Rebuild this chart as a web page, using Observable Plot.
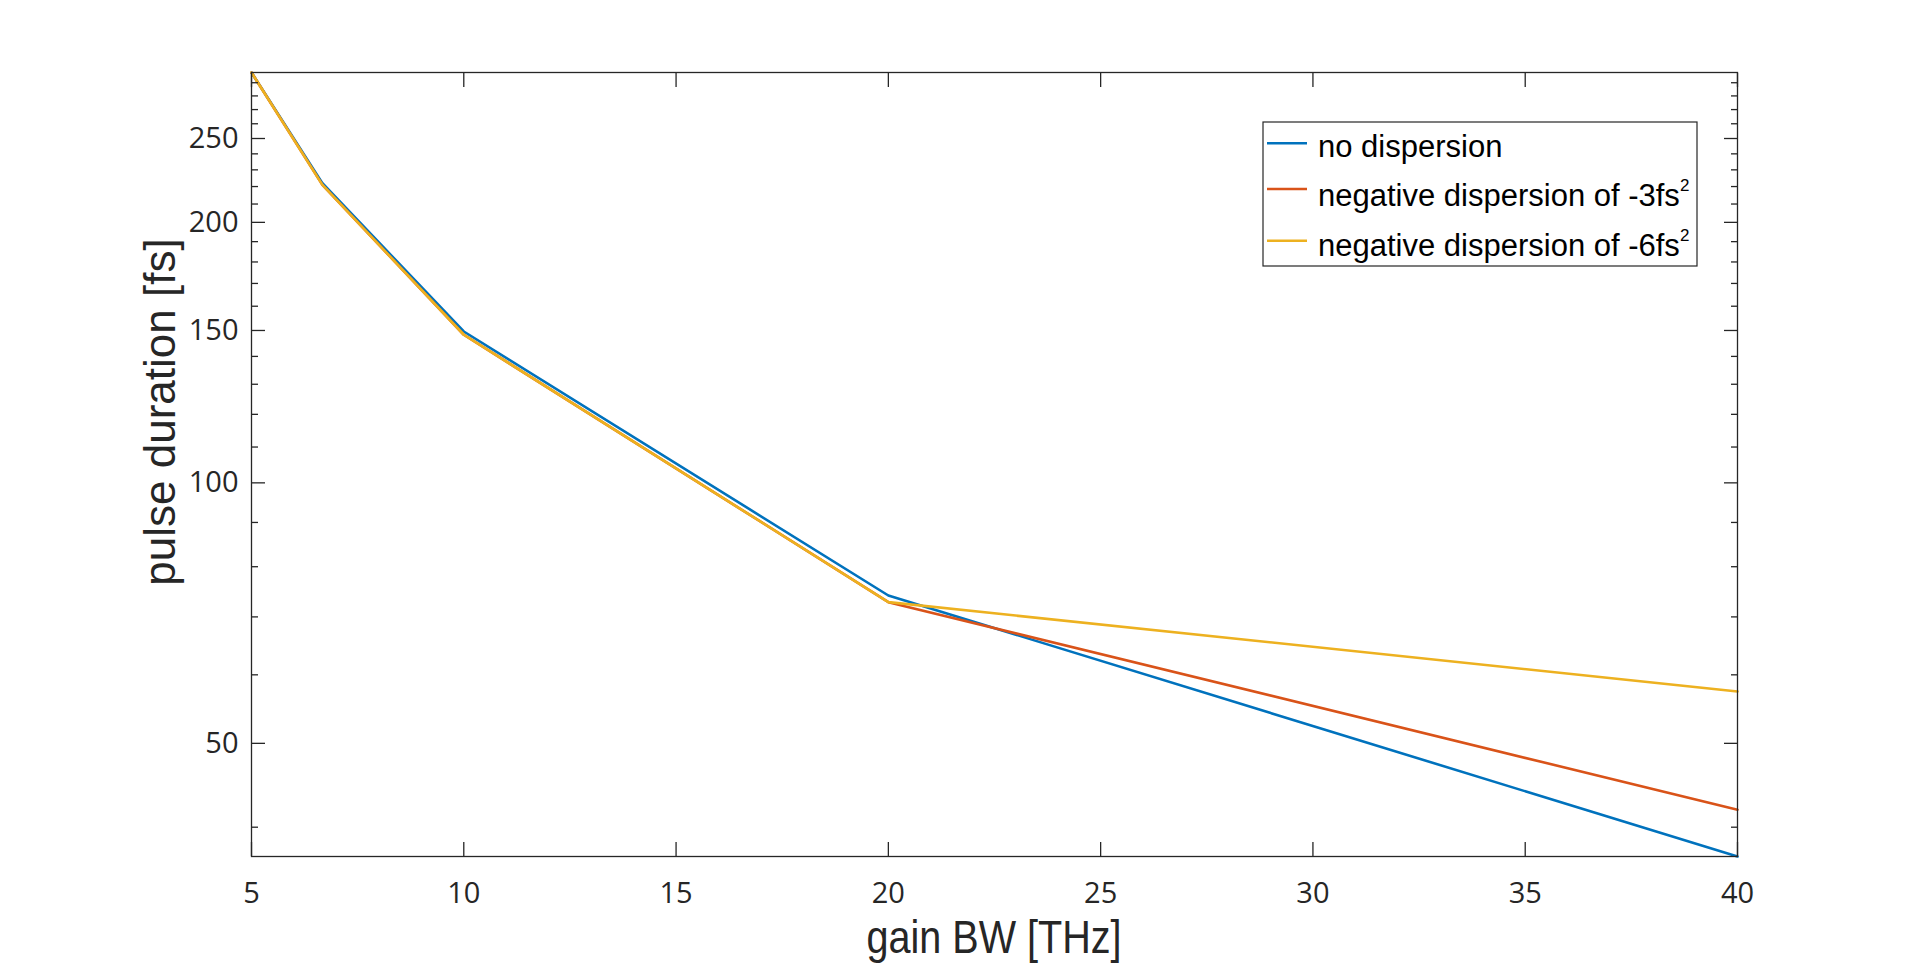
<!DOCTYPE html>
<html>
<head>
<meta charset="utf-8">
<script src="https://cdn.jsdelivr.net/npm/d3@7"></script>
<script src="https://cdn.jsdelivr.net/npm/@observablehq/plot@0.6"></script>
<style>
  html, body { margin: 0; padding: 0; background: #ffffff; }
  #chart svg { display: block; }
</style>
</head>
<body>
<div id="chart"></div>
<script>
// ---- data ----
const gainBW = [5, 6.67, 10, 20, 40];                 // THz
const noDispersion = [298, 222, 149.6, 74.1, 37];     // fs
const negDisp3 = [298, 221, 148.3, 72.8, 41.9];       // fs
const negDisp6 = [298, 221, 148.3, 72.8, 57.4];       // fs
const seriesNames = ["no dispersion", "negative dispersion of -3fs2", "negative dispersion of -6fs2"];
const seriesColors = ["#0072BD", "#D95319", "#EDB120"];
const xTicks = [5, 10, 15, 20, 25, 30, 35, 40];
const yMajorTicks = [50, 100, 150, 200, 250];
const yMinorTicks = [40, 60, 70, 80, 90, 110, 120, 130, 140, 160, 170, 180, 190, 210, 220, 230, 240, 260, 270, 280, 290];
const xDomain = [5, 40];
const yDomain = [37, 298];

const seriesValues = [noDispersion, negDisp3, negDisp6];
const rows = [];
seriesNames.forEach((name, i) => {
  gainBW.forEach((x, j) => rows.push({series: name, x, y: seriesValues[i][j]}));
});

const axisColor = "#262626";
const W = 1920, H = 963;
const mL = 251, mR = 183, mT = 72, mB = 107;

const chart = Plot.plot({
  width: W,
  height: H,
  marginLeft: mL,
  marginRight: mR,
  marginTop: mT,
  marginBottom: mB,
  style: {background: "#ffffff", color: axisColor, fontFamily: "'Open Sans', sans-serif", fontSize: "29px"},
  x: {domain: xDomain, label: null},
  y: {type: "log", domain: yDomain, label: null},
  color: {domain: seriesNames, range: seriesColors},
  marks: [
    Plot.line(rows, {x: "x", y: "y", z: "series", stroke: "series", strokeWidth: 2.6, strokeLinejoin: "round"}),
    Plot.frame({stroke: axisColor, strokeWidth: 1.3}),
    // left axis: major ticks inward with labels
    Plot.axisY(yMajorTicks, {anchor: "left", tickSize: 14, dx: 14, tickPadding: 13, strokeWidth: 1.3, tickFormat: d => String(d), label: null}),
    Plot.axisY(yMinorTicks, {anchor: "left", tickSize: 7, dx: 7, strokeWidth: 1.3, tickFormat: () => "", label: null}),
    // right axis ticks inward
    Plot.axisY(yMajorTicks, {anchor: "right", tickSize: 14, dx: -14, strokeWidth: 1.3, tickFormat: () => "", label: null}),
    Plot.axisY(yMinorTicks, {anchor: "right", tickSize: 7, dx: -7, strokeWidth: 1.3, tickFormat: () => "", label: null}),
    // bottom axis ticks inward with labels
    Plot.axisX(xTicks, {anchor: "bottom", tickSize: 14, dy: -14, tickPadding: 26, strokeWidth: 1.3, tickFormat: d => String(d), label: null}),
    // top axis ticks inward
    Plot.axisX(xTicks, {anchor: "top", tickSize: 14, dy: 14, strokeWidth: 1.3, tickFormat: () => "", label: null})
  ]
});

document.getElementById("chart").appendChild(chart);

const svg = d3.select(chart);

// axis titles
svg.append("text")
  .attr("transform", "translate(175,412) rotate(-90)")
  .attr("text-anchor", "middle")
  .attr("font-family", "'Liberation Sans', Arial, sans-serif")
  .attr("font-size", 44)
  .attr("fill", axisColor)
  .text("pulse duration [fs]");

svg.append("text")
  .attr("x", (mL + W - mR) / 2)
  .attr("y", 953)
  .attr("text-anchor", "middle")
  .attr("font-family", "'Liberation Sans', Arial, sans-serif")
  .attr("font-size", 46)
  .attr("textLength", 255)
  .attr("lengthAdjust", "spacingAndGlyphs")
  .attr("fill", axisColor)
  .text("gain BW [THz]");

// legend
const lg = svg.append("g")
  .attr("font-family", "'Liberation Sans', Arial, sans-serif")
  .attr("text-anchor", "start");
lg.append("rect")
  .attr("x", 1263).attr("y", 122).attr("width", 434).attr("height", 144)
  .attr("fill", "#ffffff").attr("stroke", axisColor).attr("stroke-width", 1.2);
const lineYs = [143.3, 189, 240.7];
const textYs = [157, 206, 256];
seriesNames.forEach((name, i) => {
  lg.append("line")
    .attr("x1", 1267).attr("x2", 1307)
    .attr("y1", lineYs[i]).attr("y2", lineYs[i])
    .attr("stroke", seriesColors[i]).attr("stroke-width", 2.6);
  const t = lg.append("text")
    .attr("x", 1318).attr("y", textYs[i])
    .attr("text-anchor", "start")
    .attr("font-size", 31).attr("fill", "#000000");
  if (name.endsWith("fs2")) {
    t.append("tspan").text(name.slice(0, -1));
    t.append("tspan").attr("font-size", 17).attr("dy", -15).text("2");
  } else {
    t.text(name);
  }
});
</script>
</body>
</html>
